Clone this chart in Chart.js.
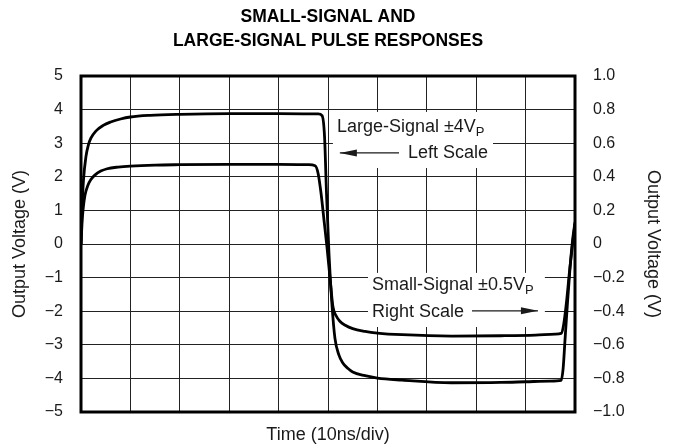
<!DOCTYPE html>
<html>
<head>
<meta charset="utf-8">
<script src="https://cdn.jsdelivr.net/npm/chart.js@4.4.1/dist/chart.umd.min.js"></script>
<style>
  html, body { margin: 0; padding: 0; background: #fff; }
  #wrap { width: 676px; height: 447px; }
</style>
</head>
<body>
<div id="wrap"><canvas id="myChart" width="676" height="447"></canvas></div>
<script>
// time in divisions (10ns/div)
const largeTime = [0, 0.02, 0.05, 0.1, 0.15, 0.2, 0.3, 0.45, 0.6, 0.8, 1.0, 1.4, 2.0, 3.0, 4.0, 4.8, 4.88, 4.93, 4.97, 5.02, 5.08, 5.14, 5.22, 5.3, 5.4, 5.5, 5.75, 6.0, 6.5, 7.5, 8.5, 9.0, 9.5, 9.72, 9.76, 9.8, 9.85, 9.9, 9.95, 10.0];
// left scale, volts
const largeVolts = [0, 1.0, 1.9, 2.6, 2.95, 3.15, 3.36, 3.53, 3.63, 3.72, 3.78, 3.83, 3.86, 3.88, 3.88, 3.87, 3.82, 3.2, 1.5, -0.3, -1.8, -2.8, -3.3, -3.54, -3.7, -3.81, -3.92, -3.99, -4.05, -4.13, -4.12, -4.1, -4.08, -4.06, -3.7, -2.8, -1.7, -0.7, 0.1, 0.65];

const smallTime = [0, 0.02, 0.04, 0.08, 0.14, 0.2, 0.28, 0.4, 0.53, 0.75, 1.0, 1.5, 2.0, 3.0, 4.0, 4.6, 4.74, 4.8, 4.86, 4.92, 4.98, 5.04, 5.1, 5.17, 5.24, 5.35, 5.5, 5.75, 6.0, 6.5, 7.5, 8.5, 9.2, 9.6, 9.72, 9.77, 9.83, 9.89, 9.95, 10.0];
// right scale, volts
const smallVolts = [0, 0.12, 0.2, 0.29, 0.35, 0.384, 0.41, 0.434, 0.448, 0.458, 0.464, 0.47, 0.472, 0.474, 0.474, 0.472, 0.466, 0.42, 0.3, 0.14, -0.02, -0.2, -0.374, -0.43, -0.46, -0.484, -0.504, -0.52, -0.53, -0.54, -0.548, -0.546, -0.542, -0.536, -0.532, -0.48, -0.34, -0.16, 0.0, 0.12];

const leftTicks = [-5, -4, -3, -2, -1, 0, 1, 2, 3, 4, 5];
const rightTicks = [-1.0, -0.8, -0.6, -0.4, -0.2, 0, 0.2, 0.4, 0.6, 0.8, 1.0];

const titleLines = ['SMALL-SIGNAL AND', 'LARGE-SIGNAL PULSE RESPONSES'];

function toPoints(xs, ys) {
  return xs.map((x, i) => ({ x: x, y: ys[i] }));
}

function minus(str) {
  return str.replace('-', '\u2212');
}

var ink = '#1a1a1a';
var fam = '"Liberation Sans", Arial, sans-serif';

// white label boxes with text and arrows, drawn over the grid
var labelsPlugin = {
  id: 'labels',
  beforeDatasetsDraw(chart) {
    var ctx = chart.ctx;
    var x = chart.scales.x;
    var y = chart.scales.y;
    ctx.save();
    ctx.fillStyle = '#fff';
    // large signal box
    var bx1 = x.getPixelForValue(5.1), bx2 = x.getPixelForValue(8.34);
    var by1 = y.getPixelForValue(3.93), by2 = y.getPixelForValue(2.26);
    ctx.fillRect(bx1, by1, bx2 - bx1, by2 - by1);
    // small signal box
    var cx1 = x.getPixelForValue(5.81), cx2 = x.getPixelForValue(9.39);
    var cy1 = y.getPixelForValue(-0.86), cy2 = y.getPixelForValue(-2.47);
    ctx.fillRect(cx1, cy1, cx2 - cx1, cy2 - cy1);

    ctx.fillStyle = ink;
    ctx.strokeStyle = ink;
    ctx.lineWidth = 1.3;
    ctx.textBaseline = 'alphabetic';
    ctx.font = '18px ' + fam;

    function sub(text, px, py) {
      ctx.textAlign = 'left';
      ctx.fillText(text, px, py);
      var w = ctx.measureText(text).width;
      ctx.font = '13px ' + fam;
      ctx.fillText('P', px + w, py + 4);
      ctx.font = '18px ' + fam;
    }

    function arrow(x1, x2, py, headLeft) {
      ctx.beginPath();
      ctx.moveTo(x1, py);
      ctx.lineTo(x2, py);
      ctx.stroke();
      var hx = headLeft ? x1 : x2;
      var d = headLeft ? 1 : -1;
      ctx.beginPath();
      ctx.moveTo(hx, py);
      ctx.lineTo(hx + d * 17, py - 3.5);
      ctx.lineTo(hx + d * 17, py + 3.5);
      ctx.closePath();
      ctx.fill();
    }

    // Large-Signal
    var lx = x.getPixelForValue(5.18);
    sub('Large-Signal \u00b14V', lx, y.getPixelForValue(3.33));
    ctx.textAlign = 'right';
    var rx = x.getPixelForValue(8.24);
    ctx.fillText('Left Scale', rx, y.getPixelForValue(2.56));
    var tw = ctx.measureText('Left Scale').width;
    arrow(x.getPixelForValue(5.24), rx - tw - 9, y.getPixelForValue(2.71), true);

    // Small-Signal
    var sx = x.getPixelForValue(5.89);
    sub('Small-Signal \u00b10.5V', sx, y.getPixelForValue(-1.37));
    ctx.textAlign = 'left';
    ctx.fillText('Right Scale', sx, y.getPixelForValue(-2.17));
    var sw = ctx.measureText('Right Scale').width;
    arrow(sx + sw + 8, x.getPixelForValue(9.25), y.getPixelForValue(-1.99), false);
    ctx.restore();
  },
  afterDraw(chart) {
    var a = chart.chartArea;
    var ctx = chart.ctx;
    ctx.save();
    ctx.strokeStyle = '#000';
    ctx.lineWidth = 3;
    ctx.strokeRect(a.left, a.top, a.right - a.left, a.bottom - a.top);
    ctx.restore();
  }
};

var config = {
  type: 'line',
  data: {
    datasets: [{
      label: 'Large-Signal',
      data: toPoints(largeTime, largeVolts),
      yAxisID: 'y',
      borderColor: '#000',
      borderWidth: 2.8,
      pointRadius: 0,
      cubicInterpolationMode: 'monotone'
    }, {
      label: 'Small-Signal',
      data: toPoints(smallTime, smallVolts),
      yAxisID: 'y2',
      borderColor: '#000',
      borderWidth: 2.8,
      pointRadius: 0,
      cubicInterpolationMode: 'monotone'
    }]
  },
  options: {
    responsive: false,
    animation: false,
    layout: { padding: 0 },
    plugins: {
      legend: { display: false },
      tooltip: { enabled: false },
      title: {
        display: true,
        text: titleLines,
        fullSize: false,
        color: '#000',
        font: { family: fam, size: 17.5, weight: 'bold', lineHeight: '24px' },
        padding: { top: 5.5, bottom: 22.5 }
      }
    },
    scales: {
      x: {
        type: 'linear',
        min: 0,
        max: 10,
        ticks: { stepSize: 1, display: false },
        grid: { color: '#222', lineWidth: 1, drawTicks: false },
        border: { display: false },
        title: {
          display: true,
          text: 'Time (10ns/div)',
          color: ink,
          font: { family: fam, size: 18 },
          padding: { top: 0, bottom: 1 }
        },
        afterFit(scale) { scale.height = 35; }
      },
      y: {
        position: 'left',
        min: -5,
        max: 5,
        afterBuildTicks(scale) { scale.ticks = leftTicks.map(v => ({ value: v })); },
        ticks: {
          padding: 18,
          color: ink,
          font: { family: fam, size: 16 },
          callback: v => minus(String(v))
        },
        grid: { color: '#222', lineWidth: 1, drawTicks: false },
        border: { display: false },
        title: {
          display: true,
          text: 'Output Voltage (V)',
          color: ink,
          font: { family: fam, size: 18 },
          padding: { top: 9, bottom: 0 }
        },
        afterFit(scale) { scale.width = 81; }
      },
      y2: {
        position: 'right',
        min: -1,
        max: 1,
        afterBuildTicks(scale) { scale.ticks = rightTicks.map(v => ({ value: v })); },
        ticks: {
          padding: 18,
          color: ink,
          font: { family: fam, size: 16 },
          callback: v => Math.abs(v) < 1e-9 ? '0' : minus(v.toFixed(1))
        },
        grid: { drawOnChartArea: false, drawTicks: false },
        border: { display: false },
        title: {
          display: true,
          text: 'Output Voltage (V)',
          color: ink,
          font: { family: fam, size: 18 },
          padding: { top: 12, bottom: 0 }
        },
        afterFit(scale) { scale.width = 101; }
      }
    }
  },
  plugins: [labelsPlugin]
};

var chart = document.querySelector('#myChart');
var myChart = new Chart(chart, config);
</script>
</body>
</html>
